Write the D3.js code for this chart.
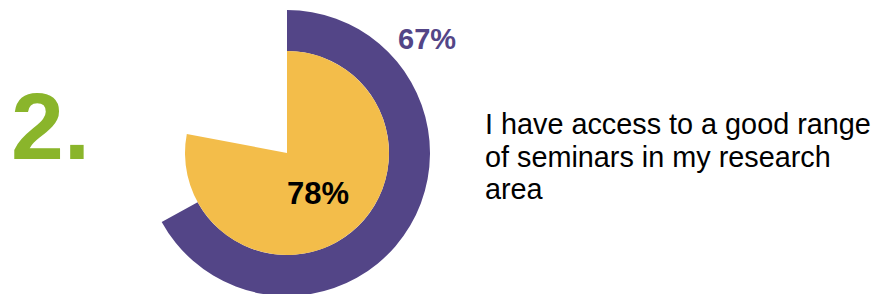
<!DOCTYPE html>
<html><head><meta charset="utf-8">
<script src="https://cdn.jsdelivr.net/npm/d3@7"></script>
<style>html,body{margin:0;padding:0;background:#fff;overflow:hidden}</style>
</head><body>
<svg id="c" width="882" height="294"></svg>
<script>
const number = "2.";
const seriesNames = ["outer", "inner"];
const seriesValues = [67, 78];
const seriesLabels = ["67%", "78%"];
const seriesColors = ["#534587", "#F3BD4A"];
const statementLines = ["I have access to a good range", "of seminars in my research", "area"];

const svg = d3.select("#c");
const cx = 287, cy = 153;
const g = svg.append("g").attr("transform", `translate(${cx},${cy})`);
const angle = d3.scaleLinear().domain([0, 100]).range([0, 2 * Math.PI]);

// outer ring
g.append("path")
  .attr("d", d3.arc().innerRadius(102).outerRadius(143).startAngle(0).endAngle(angle(seriesValues[0]))())
  .attr("fill", seriesColors[0]);
// inner pie
g.append("path")
  .attr("d", d3.arc().innerRadius(0).outerRadius(102).startAngle(0).endAngle(angle(seriesValues[1]))())
  .attr("fill", seriesColors[1]);

const font = "Liberation Sans, Arial, sans-serif";
svg.append("text").attr("x", 398).attr("y", 49).text(seriesLabels[0])
  .attr("font-family", font).attr("font-weight", "bold").attr("font-size", 29).attr("fill", seriesColors[0]);
svg.append("text").attr("x", 287).attr("y", 204).text(seriesLabels[1])
  .attr("font-family", font).attr("font-weight", "bold").attr("font-size", 31).attr("fill", "#000");

svg.append("text").attr("x", 11).attr("y", 159).text(number)
  .attr("font-family", font).attr("font-weight", "bold").attr("font-size", 95).attr("fill", "#8AB52B");

const t = svg.append("text").attr("font-family", font).attr("font-size", 28.8).attr("fill", "#000");
statementLines.forEach((l, i) => {
  t.append("tspan").attr("x", 485).attr("y", 134 + i * 32.5).text(l);
});
</script>
</body></html>
